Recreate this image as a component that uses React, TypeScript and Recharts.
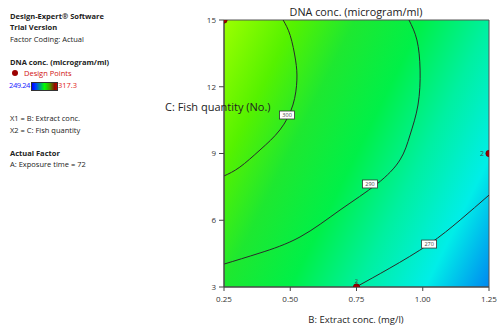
import { ComposedChart, Line, Scatter, XAxis, YAxis, ReferenceArea } from "recharts";

const xTicks = [0.25, 0.5, 0.75, 1.0, 1.25];
const yTicks = [3, 6, 9, 12, 15];

// contour lines (B: extract conc., C: fish quantity)
const contourHigh = [
  { x: 0.473, y: 15 },
  { x: 0.5, y: 14.3 },
  { x: 0.52, y: 13.2 },
  { x: 0.525, y: 12.3 },
  { x: 0.51, y: 11.18 },
  { x: 0.461, y: 10.06 },
  { x: 0.386, y: 9.16 },
  { x: 0.31, y: 8.39 },
  { x: 0.25, y: 7.99 },
];
const contourMid = [
  { x: 0.948, y: 15 },
  { x: 0.978, y: 14.1 },
  { x: 0.99, y: 12.75 },
  { x: 0.982, y: 11.18 },
  { x: 0.952, y: 9.83 },
  { x: 0.914, y: 8.71 },
  { x: 0.827, y: 7.63 },
  { x: 0.688, y: 6.46 },
  { x: 0.537, y: 5.25 },
  { x: 0.386, y: 4.53 },
  { x: 0.25, y: 4.03 },
];
const contourLow = [
  { x: 0.748, y: 3 },
  { x: 0.876, y: 3.85 },
  { x: 1.024, y: 4.93 },
  { x: 1.141, y: 6.01 },
  { x: 1.25, y: 7.13 },
];
const contourLabels = [
  { x: 0.488, y: 10.73, text: "300" },
  { x: 0.801, y: 7.63, text: "290" },
  { x: 1.024, y: 4.93, text: "270" },
];
const designPoints = [
  { x: 0.25, y: 15, n: "" },
  { x: 1.25, y: 9, n: "2" },
  { x: 0.75, y: 3, n: "2" },
];

const font = "'Open Sans', 'DejaVu Sans', sans-serif";

function Txt({ x, y, size, children, bold, color, center, spacing }: any) {
  return (
    <div
      style={{
        position: "absolute",
        left: center ? x - 150 : x,
        width: center ? 300 : undefined,
        textAlign: center ? "center" : "left",
        top: y - size * 0.6,
        fontSize: size,
        lineHeight: `${size * 1.2}px`,
        fontWeight: bold ? 700 : 400,
        color: color || "#222",
        whiteSpace: "nowrap",
        fontFamily: font,
        letterSpacing: spacing || 0,
        zIndex: 2,
      }}
    >
      {children}
    </div>
  );
}

const LabelBox = (props: any) => {
  const { cx, cy, payload } = props;
  return (
    <g>
      <rect x={cx - 7.5} y={cy - 4} width={15} height={8} fill="#fff" stroke="#333" strokeWidth={0.8} />
      <text x={cx} y={cy + 2} fontSize={5.5} textAnchor="middle" fill="#444" fontFamily={font}>
        {payload.text}
      </text>
    </g>
  );
};

const DesignDot = (props: any) => {
  const { cx, cy, payload } = props;
  return (
    <g>
      <circle cx={cx} cy={cy} r={3.2} fill="#9b0000" stroke="#5a0000" strokeWidth={0.6} />
      {payload.n && payload.x > 1 && (
        <text x={cx - 5} y={cy + 2.5} fontSize={7} textAnchor="end" fill="#444" fontFamily={font}>
          {payload.n}
        </text>
      )}
      {payload.n && payload.x < 1 && (
        <text x={cx} y={cy - 4} fontSize={6} textAnchor="middle" fill="#444" fontFamily={font}>
          {payload.n}
        </text>
      )}
    </g>
  );
};

export default function App() {
  return (
    <div style={{ position: "absolute", left: 0, top: 0, width: 499, height: 326, background: "#fff", fontFamily: font }}>
      <Txt x={10} y={16} size={7.5} bold>Design-Expert® Software</Txt>
      <Txt x={10} y={27} size={7.5} bold>Trial Version</Txt>
      <Txt x={10} y={39} size={7.5}>Factor Coding: Actual</Txt>
      <Txt x={10} y={62} size={7.5} bold>DNA conc. (microgram/ml)</Txt>
      <div style={{ position: "absolute", left: 12, top: 70, width: 6, height: 6, borderRadius: 3, background: "#9b0000" }} />
      <Txt x={24} y={73} size={7.5} color="#d01010">Design Points</Txt>
      <Txt x={9} y={85} size={7.5} color="#2020ff" spacing={-0.4}>249.24</Txt>
      <div
        style={{
          position: "absolute",
          left: 31,
          top: 82,
          width: 25,
          height: 7,
          background: "linear-gradient(to right, #0000ff, #0040ff 15%, #00ff00 50%, #40a000 70%, #8b1000 90%, #c00000)",
          border: "0.5px solid #333",
        }}
      />
      <Txt x={58} y={85} size={7.5} color="#e02020">317.3</Txt>
      <Txt x={10} y={118} size={7.5}>X1 = B: Extract conc.</Txt>
      <Txt x={10} y={130} size={7.5}>X2 = C: Fish quantity</Txt>
      <Txt x={10} y={153} size={7.5} bold>Actual Factor</Txt>
      <Txt x={10} y={164} size={7.5}>A: Exposure time = 72</Txt>

      <Txt x={356} y={12} size={10.8} center>DNA conc. (microgram/ml)</Txt>
      <Txt x={165} y={107} size={11}>C: Fish quantity (No.)</Txt>
      <Txt x={356} y={320} size={9.5} center>B: Extract conc. (mg/l)</Txt>

      <div style={{ position: "absolute", left: 0, top: 0 }}>
        <ComposedChart width={499} height={326} margin={{ top: 20, right: 10, bottom: 19, left: 194 }}>
          <defs>
            <linearGradient id="bg" x1="0" y1="0" x2="1.2" y2="0.6">
              <stop offset="0" stopColor="#9cff00" />
              <stop offset="0.18" stopColor="#55f200" />
              <stop offset="0.33" stopColor="#1ee830" />
              <stop offset="0.5" stopColor="#00f048" />
              <stop offset="0.67" stopColor="#00f0a0" />
              <stop offset="0.84" stopColor="#00eee8" />
              <stop offset="1" stopColor="#0088f0" />
            </linearGradient>
          </defs>
          <XAxis
            type="number"
            dataKey="x"
            domain={[0.25, 1.25]}
            ticks={xTicks}
            allowDataOverflow
            tickFormatter={(v: number) => v.toFixed(2)}
            tick={{ fontSize: 8, fill: "#333", fontFamily: font }}
            tickSize={4}
            tickMargin={5}
            height={20}
            stroke="#444"
          />
          <YAxis
            type="number"
            dataKey="y"
            domain={[3, 15]}
            ticks={yTicks}
            allowDataOverflow
            tick={{ fontSize: 8, fill: "#333", fontFamily: font }}
            tickSize={5}
            tickMargin={3}
            width={30}
            stroke="#444"
          />
          <ReferenceArea x1={0.25} x2={1.25} y1={3} y2={15} fill="url(#bg)" fillOpacity={1} stroke="#555" strokeWidth={1} />
          <Line data={contourHigh} dataKey="y" type="natural" stroke="#2a2a2a" strokeWidth={1} dot={false} isAnimationActive={false} />
          <Line data={contourMid} dataKey="y" type="natural" stroke="#2a2a2a" strokeWidth={1} dot={false} isAnimationActive={false} />
          <Line data={contourLow} dataKey="y" type="natural" stroke="#2a2a2a" strokeWidth={1} dot={false} isAnimationActive={false} />
          <Scatter data={contourLabels} dataKey="y" shape={LabelBox} isAnimationActive={false} />
          <Scatter data={designPoints} dataKey="y" shape={DesignDot} isAnimationActive={false} />
        </ComposedChart>
      </div>
    </div>
  );
}
